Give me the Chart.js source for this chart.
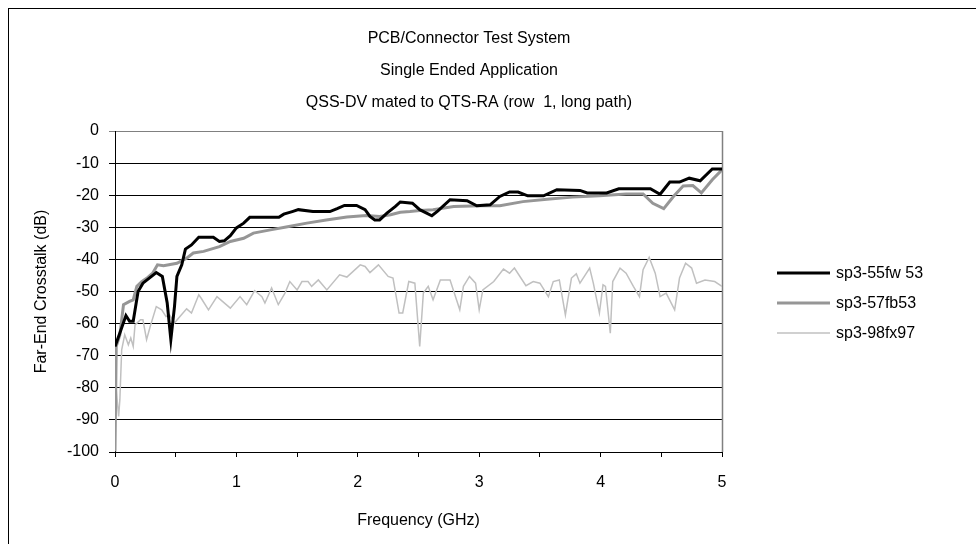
<!DOCTYPE html>
<html>
<head>
<meta charset="utf-8">
<title>PCB/Connector Test System</title>
<script src="https://cdn.jsdelivr.net/npm/chart.js@4/dist/chart.umd.min.js"></script>
<style>
  html, body { margin: 0; padding: 0; background: #fff; }
  canvas { display: block; }
</style>
</head>
<body>
<canvas id="xtalkChart" width="976" height="544"></canvas>
<script>
// Chart text
const titleLines = ['PCB/Connector Test System', 'Single Ended Application', 'QSS-DV mated to QTS-RA (row  1, long path)'];
const xTitle = 'Frequency (GHz)';
const yTitle = 'Far-End Crosstalk (dB)';
const seriesNames = ['sp3-55fw 53', 'sp3-57fb53', 'sp3-98fx97'];

// sp3-55fw53 (black)
const freqA = [0, 0.04, 0.09, 0.12, 0.15, 0.19, 0.23, 0.34, 0.39, 0.43, 0.46, 0.49, 0.51, 0.55, 0.58, 0.63, 0.69, 0.81, 0.86, 0.90,
  0.95, 1.00, 1.06, 1.11, 1.35, 1.39, 1.46, 1.51, 1.63, 1.77, 1.83, 1.89, 1.99, 2.06, 2.10, 2.14, 2.18, 2.24, 2.31, 2.35,
  2.45, 2.51, 2.61, 2.66, 2.76, 2.90, 2.98, 3.09, 3.17, 3.25, 3.32, 3.40, 3.53, 3.64, 3.83, 3.89, 4.05, 4.15, 4.41, 4.49,
  4.57, 4.65, 4.73, 4.82, 4.92, 5.00];
const dbA = [-67.1, -62.9, -57.5, -59.3, -59.3, -50.0, -47.4, -44.1, -45.3, -53.6, -65.0, -54.7, -45.3, -41.7, -36.8, -35.5, -33.1, -33.1, -34.4, -34.2,
  -32.6, -30.2, -28.7, -26.9, -26.9, -25.9, -25.1, -24.5, -25.1, -25.1, -24.2, -23.2, -23.2, -24.5, -26.6, -27.7, -27.7, -25.6, -23.5, -22.1,
  -22.5, -24.5, -26.4, -24.9, -21.4, -21.7, -23.3, -23.0, -20.4, -19.0, -19.0, -20.2, -20.2, -18.3, -18.5, -19.3, -19.3, -18.0, -18.0, -19.7,
  -15.9, -15.9, -14.7, -15.5, -11.8, -11.8];

// sp3-57fb53 (mid grey)
const freqB = [0, 0.01, 0.04, 0.06, 0.07, 0.12, 0.15, 0.18, 0.22, 0.27, 0.31, 0.35, 0.40, 0.51, 0.59, 0.645, 0.73, 0.86, 0.95, 1.06,
  1.14, 1.28, 1.41, 1.58, 1.74, 1.91, 2.07, 2.18, 2.27, 2.35, 2.43, 2.51, 2.62, 2.79, 3.01, 3.17, 3.36, 3.58, 3.77, 3.99,
  4.21, 4.35, 4.43, 4.52, 4.60, 4.68, 4.76, 4.83, 4.92, 5.00];
const dbB = [-99.8, -67.1, -63.5, -57.3, -54.1, -53.1, -52.6, -48.4, -46.9, -45.6, -44.3, -41.7, -42.0, -41.2, -39.6, -38.0, -37.5, -36.0, -34.4, -33.4,
  -31.8, -30.8, -29.9, -28.7, -27.7, -26.8, -26.3, -26.6, -26.1, -25.3, -25.1, -24.8, -24.5, -23.5, -23.3, -23.3, -22.0, -21.2, -20.6, -20.2,
  -19.6, -19.6, -22.5, -24.2, -20.4, -17.1, -17.0, -19.3, -15.2, -12.1];

// sp3-98fx97 (light grey)
const freqC = [0, 0.01, 0.03, 0.04, 0.055, 0.08, 0.11, 0.13, 0.15, 0.165, 0.21, 0.23, 0.26, 0.29, 0.34, 0.385, 0.42, 0.45, 0.49, 0.535,
  0.59, 0.63, 0.69, 0.71, 0.77, 0.84, 0.95, 1.03, 1.085, 1.15, 1.21, 1.235, 1.29, 1.345, 1.40, 1.44, 1.50, 1.54, 1.59, 1.62,
  1.675, 1.745, 1.85, 1.91, 2.02, 2.06, 2.10, 2.17, 2.25, 2.29, 2.34, 2.37, 2.42, 2.47, 2.51, 2.54, 2.58, 2.62, 2.68, 2.76,
  2.84, 2.87, 2.92, 2.97, 3.00, 3.03, 3.12, 3.20, 3.25, 3.29, 3.385, 3.445, 3.50, 3.57, 3.61, 3.66, 3.71, 3.73, 3.76, 3.80,
  3.83, 3.91, 3.94, 3.99, 4.02, 4.04, 4.08, 4.10, 4.16, 4.21, 4.27, 4.32, 4.35, 4.40, 4.45, 4.49, 4.54, 4.61, 4.65, 4.70,
  4.75, 4.79, 4.86, 4.94, 5.00];
const dbC = [-68.2, -80.6, -88.9, -83.7, -68.2, -63.5, -66.6, -64.5, -67.1, -60.4, -58.8, -58.8, -65.0, -60.9, -54.7, -55.7, -57.8, -57.3, -59.8, -57.8,
  -55.4, -56.7, -51.0, -52.1, -55.7, -51.6, -55.2, -51.6, -54.1, -49.7, -51.6, -53.6, -48.9, -54.1, -50.5, -46.9, -49.5, -46.9, -46.9, -48.4,
  -46.4, -49.5, -44.8, -45.5, -41.7, -42.2, -44.1, -41.7, -45.3, -45.8, -56.7, -56.7, -46.9, -47.4, -67.1, -50.5, -48.4, -52.6, -46.4, -46.4,
  -55.7, -48.4, -45.3, -47.4, -55.7, -49.5, -46.9, -43.0, -44.3, -42.7, -48.2, -46.9, -47.4, -51.6, -46.9, -46.4, -57.3, -52.6, -45.8, -44.5,
  -47.4, -42.7, -47.4, -56.7, -47.9, -48.4, -63.0, -46.9, -42.7, -44.3, -48.4, -51.6, -43.2, -39.4, -44.3, -51.6, -50.5, -55.7, -45.8, -41.2,
  -42.7, -47.4, -46.4, -46.9, -48.4];

const toPoints = (xs, ys) => xs.map((x, i) => ({ x: x, y: ys[i] }));

const FONT = '"Liberation Sans", Arial, sans-serif';
Chart.defaults.font.family = FONT;
Chart.defaults.font.size = 16;
Chart.defaults.color = '#000';

// white page, outer frame and the grey plot border on the right
const framePlugin = {
  id: 'frame',
  beforeDraw(chart) {
    const c = chart.ctx;
    c.save();
    c.fillStyle = '#fff';
    c.fillRect(0, 0, chart.width, chart.height);
    c.strokeStyle = '#000';
    c.lineWidth = 1;
    c.strokeRect(8.5, 8.5, chart.width + 20, chart.height + 20);
    c.restore();
  },
  beforeDatasetsDraw(chart) {
    const a = chart.chartArea, c = chart.ctx;
    c.save();
    c.strokeStyle = '#808080';
    c.lineWidth = 1.5;
    c.beginPath();
    c.moveTo(a.right + 0.5, a.top);
    c.lineTo(a.right + 0.5, a.bottom);
    c.stroke();
    c.restore();
  }
};

// legend box to the right of the plot, like the original sheet
const sideLegend = {
  id: 'sideLegend',
  afterDraw(chart) {
    const c = chart.ctx;
    c.save();
    c.font = '16px ' + FONT;
    c.textBaseline = 'middle';
    c.fillStyle = '#000';
    chart.data.datasets.forEach((ds, i) => {
      const y = 273 + i * 30;
      c.strokeStyle = ds.borderColor;
      c.lineWidth = ds.borderWidth;
      c.beginPath();
      c.moveTo(777, y);
      c.lineTo(830, y);
      c.stroke();
      c.fillText(ds.label, 836, y + 1);
    });
    c.restore();
  }
};

new Chart(document.getElementById('xtalkChart'), {
  type: 'line',
  data: {
    datasets: [
      { label: seriesNames[0], data: toPoints(freqA, dbA), borderColor: '#000000', borderWidth: 3 },
      { label: seriesNames[1], data: toPoints(freqB, dbB), borderColor: '#969696', borderWidth: 3 },
      { label: seriesNames[2], data: toPoints(freqC, dbC), borderColor: '#c0c0c0', borderWidth: 1.5 }
    ]
  },
  options: {
    responsive: false,
    animation: false,
    elements: { point: { radius: 0 }, line: { tension: 0, fill: false } },
    layout: { padding: { left: 0, right: 38, top: 0, bottom: 0 } },
    plugins: {
      legend: { display: false },
      tooltip: { enabled: false },
      title: {
        display: true,
        text: titleLines,
        color: '#000',
        font: { size: 16, weight: 'normal', lineHeight: 2 },
        padding: { top: 23, bottom: 12 }
      }
    },
    scales: {
      x: {
        type: 'linear',
        min: 0,
        max: 5,
        afterFit: s => { s.height = 92; },
        border: { color: '#000', width: 1 },
        grid: { drawOnChartArea: false, color: '#000', tickLength: 5 },
        ticks: {
          stepSize: 0.5,
          autoSkip: false,
          maxRotation: 0,
          padding: 16,
          callback: v => Number.isInteger(v) ? String(v) : ''
        },
        title: { display: true, text: xTitle, padding: { top: 0, bottom: 14 } }
      },
      y: {
        min: -100,
        max: 0,
        afterFit: s => { s.width = 115; },
        border: { color: '#000', width: 1 },
        grid: {
          color: c => c.tick && c.tick.value === 0 ? '#808080' : '#000',
          tickLength: 6
        },
        ticks: { stepSize: 10, padding: 10 },
        title: { display: true, text: yTitle, padding: { top: 32, bottom: 0 } }
      },
      // empty strip on the right that leaves room for the legend
      side: {
        type: 'linear',
        position: 'right',
        afterFit: s => { s.width = 216; },
        border: { display: false },
        grid: { display: false, drawTicks: false },
        ticks: { display: false }
      }
    }
  },
  plugins: [framePlugin, sideLegend]
});
</script>
</body>
</html>
